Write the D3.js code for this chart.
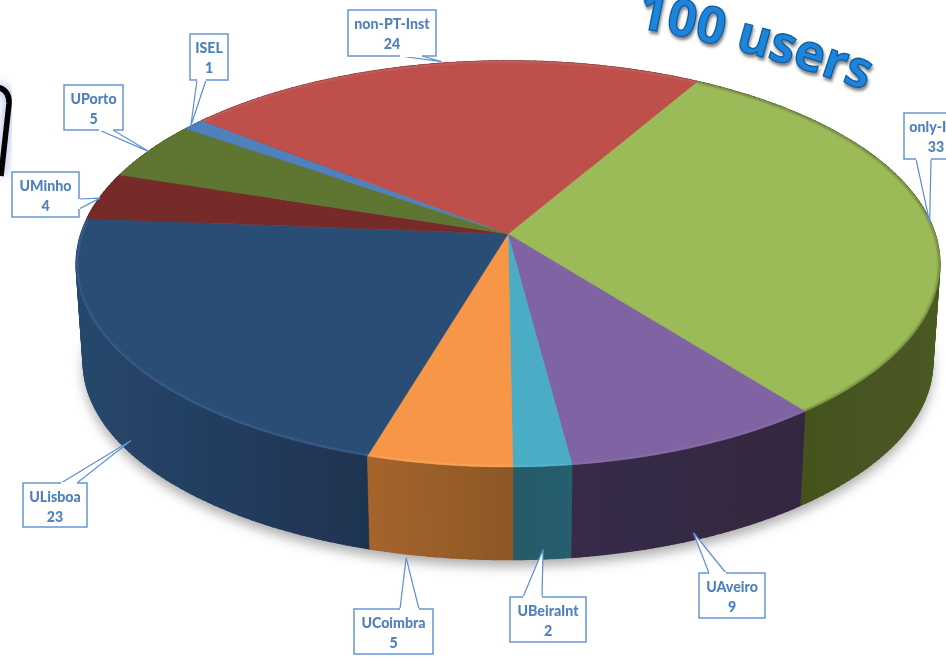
<!DOCTYPE html>
<html><head><meta charset="utf-8">
<script src="https://cdn.jsdelivr.net/npm/d3@7"></script>
<style>html,body{margin:0;padding:0;background:#fff;overflow:hidden}svg{display:block}</style>
</head><body><svg id="c" width="946" height="658"></svg>
<script>
// ---- data ----
const categories = ["only-IST","UAveiro","UBeiraInt","UCoimbra","ULisboa","UMinho","UPorto","ISEL","non-PT-Inst"];
const values = [33,9,2,5,23,4,5,1,24];
const titleText = "100 users";
// ---- styles ----
const topColors  = ["#9BBB59","#8064A2","#4BACC6","#F79646","#2C4D75","#772C2A","#5F7530","#4F81BD","#BE4F4B"];
const rimColors  = ["#66763a","#8e74ae","#5cbcd4","#fbac68","#3f6b9b","#772C2A","#5F7530","#4F81BD","#c46a66"];
const sideLeft   = ["#404b1c","#372a48","#265a6a","#a5652c","#27476d","#5c2220","#46571f","#3a5f8c","#8a3a37"];
const sideRight  = ["#4a5a22","#33283f","#285e6d","#8c5725","#1f3350","#5c2220","#46571f","#3a5f8c","#8a3a37"];
// ---- callout layout: box [x0,y0,x1,y1], pointer base [[x,y],[x,y]], anchor on the rim ----
const callouts = [
  {box:[904,113,990,159], base:[[916,159],[931,159]], depth:0,   dx:0,  dy:2,  textX:936},
  {box:[699,573,765,618], base:[[709,573],[726,573]], depth:.93, dx:-2, dy:0},
  {box:[510,597,586,642], base:[[523,597],[542,597]], depth:.9,  dx:1,  dy:0},
  {box:[354,609,433,654], base:[[400,609],[419,609]], depth:1,   dx:-34,dy:1},
  {box:[23,483,87,527],   base:[[61,483],[77,483]],   depth:.9,  dx:1,  dy:-2},
  {box:[12,172,79,217],   base:[[79,199],[79,209]],   depth:0,   dx:-1, dy:2},
  {box:[64,85,123,130],   base:[[99,130],[113,130]],  depth:0,   dx:-1, dy:1},
  {box:[190,34,228,80],   base:[[197,80],[206,80]],   depth:0,   dx:-3, dy:1},
  {box:[348,10,436,56],   base:[[400,56],[422,56]],   depth:0,   dx:3,  dy:-2}
];
const W = 946, H = 658;
const svg = d3.select("#c");
const defs = svg.append("defs");
const blur = (id,s)=>defs.append("filter").attr("id",id)
  .attr("x","-20%").attr("y","-20%").attr("width","140%").attr("height","140%")
  .attr("filterUnits","objectBoundingBox")
  .append("feGaussianBlur").attr("stdDeviation",s);
blur("b1",1.3); blur("b7",6); blur("b4",4); blur("t",.35);

// perspective model of the disc
const cx = 508, topY = 234, persp = .1478;
const topPlane = {x:427, y:198.6, oy:topY};
const botPlane = {x:420, y:193, oy:topY+99};
const project = (a,pl)=>{
  const s = Math.sin(a), c = Math.cos(a), d = 1+persp*c;
  return [cx+pl.x*s/d, pl.oy-pl.y*c/d];
};
const rad = d=>d*Math.PI/180;
const arcPts = (a0,a1,pl)=>{
  const n = Math.max(2,Math.ceil(Math.abs(a1-a0)/rad(1)));
  return d3.range(n+1).map(i=>project(a0+(a1-a0)*i/n,pl));
};
const line = d3.line();
const pie = d3.pie().sort(null).startAngle(rad(30)).endAngle(rad(390)).value(d=>d);
const arcs = pie(values).map((d,i)=>({...d,i,name:categories[i]}));

// ground shadow of the disc
svg.append("path").attr("d",line(arcPts(0,2*Math.PI,botPlane))+"Z")
  .attr("fill","#777").attr("opacity",.6).attr("filter","url(#b7)")
  .attr("transform","translate(0,7)");

// black frame cropped at the left edge
const frame = "M-3,87 Q10,90 9,104 L1,176";
svg.append("path").attr("d",frame).attr("fill","none").attr("stroke","#b9c3ee").attr("stroke-width",10).attr("filter","url(#b4)");
svg.append("path").attr("d",frame).attr("fill","none").attr("stroke","#000").attr("stroke-width",5.5);

const pieG = svg.append("g").attr("filter","url(#t)");
// side walls: swept strips as an underlay (fills the silhouette), solid slice walls on top
const strips = [], walls = [];
arcs.forEach(d=>{
  const t = arcPts(d.startAngle,d.endAngle,topPlane), b = arcPts(d.startAngle,d.endAngle,botPlane);
  const xs = t.concat(b).map(p=>p[0]);
  const g = defs.append("linearGradient").attr("id","side"+d.i).attr("gradientUnits","userSpaceOnUse")
    .attr("x1",d3.min(xs)).attr("x2",d3.max(xs)).attr("y1",0).attr("y2",0);
  g.append("stop").attr("offset",0).attr("stop-color",sideLeft[d.i]);
  g.append("stop").attr("offset",1).attr("stop-color",sideRight[d.i]);
  for(let k=0;k<t.length-1;k++){
    strips.push({i:d.i,y:b[k][1],pts:[t[k],t[k+1],b[k+1],b[k]]});
  }
  walls.push({i:d.i,y:d3.max(b,p=>p[1]),pts:t.concat(b.slice().reverse())});
});
strips.sort((a,b)=>a.y-b.y).forEach(s=>{
  pieG.append("path").attr("d",line(s.pts)+"Z").attr("fill",`url(#side${s.i})`)
    .attr("stroke",`url(#side${s.i})`).attr("stroke-width",1.6);
});
walls.sort((a,b)=>a.y-b.y).forEach(s=>{
  pieG.append("path").attr("d",line(s.pts)+"Z").attr("fill",`url(#side${s.i})`)
    .attr("stroke",`url(#side${s.i})`).attr("stroke-width",.5);
});
// top face
const clipTop = defs.append("clipPath").attr("id","topClip");
clipTop.append("path").attr("d",line(arcPts(0,2*Math.PI,topPlane))+"Z");
const topG = pieG.append("g");
const apex = project(0,{x:0,y:0,oy:topY});
arcs.forEach(d=>{
  topG.append("path").attr("d",line([apex].concat(arcPts(d.startAngle,d.endAngle,topPlane)))+"Z")
    .attr("fill",topColors[d.i]).attr("stroke",topColors[d.i]).attr("stroke-width",.4);
});
// bevel along the rim
const rimG = pieG.append("g").attr("clip-path","url(#topClip)");
arcs.forEach(d=>{
  rimG.append("path").attr("d",line(arcPts(d.startAngle,d.endAngle,topPlane))).attr("fill","none")
    .attr("stroke",rimColors[d.i]).attr("stroke-width",3).attr("opacity",.75).attr("filter","url(#b1)");
});

// title on a curved baseline
const titlePath = d3.path();
titlePath.moveTo(636,27);
titlePath.quadraticCurveTo(758,50,887,98);
defs.append("path").attr("id","titleCurve").attr("d",titlePath.toString());
const shadow = defs.append("filter").attr("id","ts").attr("x","-10%").attr("y","-20%").attr("width","120%").attr("height","150%");
shadow.append("feDropShadow").attr("dx",1).attr("dy",3).attr("stdDeviation",1.8).attr("flood-color","#333").attr("flood-opacity",.6);
svg.append("text").attr("font-family","Open Sans").attr("font-weight",700).attr("font-size",51)
  .attr("fill","#1F85DB").attr("stroke","#0F5C9E").attr("stroke-width",1.3).attr("filter","url(#ts)")
  .append("textPath").attr("href","#titleCurve").attr("startOffset",0).text(titleText);

// callouts
const callG = svg.append("g").attr("filter","url(#t)");
callouts.forEach((c,i)=>{
  const a = arcs[i], mid = (a.startAngle+a.endAngle)/2;
  const pa = project(mid,topPlane), pb = project(mid,botPlane);
  const tip = [pa[0]+(pb[0]-pa[0])*c.depth+c.dx, pa[1]+(pb[1]-pa[1])*c.depth+c.dy];
  const [x0,y0,x1,y1] = c.box;
  callG.append("rect").attr("x",x0).attr("y",y0).attr("width",x1-x0).attr("height",y1-y0)
    .attr("fill","#fff").attr("stroke","#5B8FD3").attr("stroke-width",1.4);
  callG.append("path").attr("d",line([c.base[0],tip,c.base[1]])+"Z").attr("fill","#fff").attr("stroke","#5B8FD3").attr("stroke-width",1.2);
  // hide the box edge between the pointer's base points
  callG.append("path").attr("d",line(c.base)).attr("stroke","#fff").attr("stroke-width",2);
  const tx = c.textX ?? (x0+x1)/2;
  const t = callG.append("text").attr("text-anchor","middle").attr("font-family","Lato").attr("font-weight",900)
    .attr("font-size",14.2).attr("fill","#4F81BD");
  t.append("tspan").attr("x",tx).attr("y",y0+19).text(a.name);
  t.append("tspan").attr("x",tx).attr("y",y0+39).text(a.value);
});
</script></body></html>
